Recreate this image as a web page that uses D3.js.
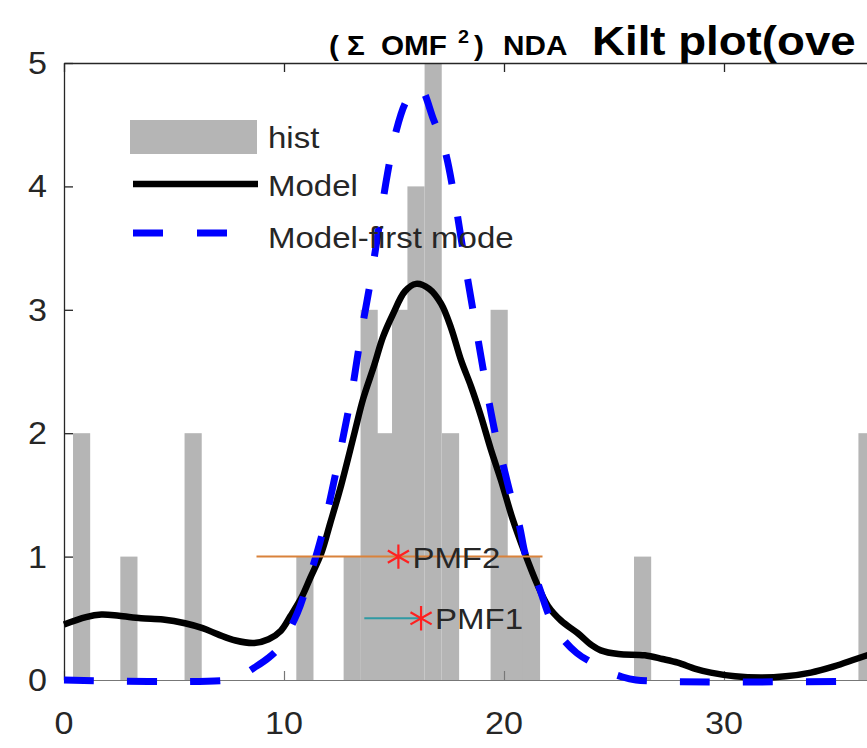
<!DOCTYPE html>
<html>
<head>
<meta charset="utf-8">
<script src="https://cdn.jsdelivr.net/npm/d3@7"></script>
<style>
  html, body { margin: 0; padding: 0; background: #fff; }
  svg { display: block; font-family: "Liberation Sans", Arial, sans-serif; }
</style>
</head>
<body>
<div id="chart"></div>
<script>
// histogram bins (centre, count)
const binCenters = [0.8, 2.95, 5.87, 10.95, 13.1, 13.87, 14.6, 15.3, 16.0, 16.78, 17.57, 19.78, 20.5, 21.25, 26.3, 36.5];
const binCounts  = [2,   1,    2,    1,     1,    3,     2,    3,    4,    5,     2,     3,     1,    1,     1,    2];
const BIN_WIDTH = 0.78;

// Model (black solid)
const modelX = [0, 1, 1.7, 2.5, 3.5, 4.5, 5.5, 6.3, 7.0, 7.8, 8.65, 9.3, 9.86, 10.3, 10.8, 11.2, 11.7, 12.1, 12.6, 13.2, 13.6, 14.1, 14.5, 14.94, 15.5, 16.0, 16.6, 17.14, 17.6, 18.05, 18.5, 18.95, 19.4, 19.86, 20.4, 20.9, 21.5, 22.0, 22.6, 23.35, 24.0, 24.4, 25.2, 26.4, 27.2, 27.9, 28.7, 29.4, 30.5, 31.7, 32.8, 33.95, 35.0, 36.0, 37.0];
const modelY = [0.45, 0.51, 0.53, 0.52, 0.50, 0.49, 0.46, 0.42, 0.37, 0.32, 0.30, 0.33, 0.40, 0.52, 0.67, 0.83, 1.03, 1.27, 1.58, 2.0, 2.28, 2.55, 2.78, 2.96, 3.15, 3.21, 3.17, 3.05, 2.85, 2.59, 2.38, 2.14, 1.87, 1.62, 1.3, 1.05, 0.78, 0.6, 0.48, 0.38, 0.28, 0.24, 0.21, 0.2, 0.17, 0.14, 0.09, 0.06, 0.03, 0.02, 0.03, 0.06, 0.11, 0.17, 0.23];

// Model-first mode (blue dashed)
const firstX = [0, 7.5, 8.0, 8.65, 9.3, 9.8, 10.6, 11.1, 11.7, 12.2, 12.7, 13.1, 13.5, 13.9, 14.3, 14.7, 15.1, 15.5, 15.9, 16.2, 16.8, 17.3, 17.8, 18.3, 18.8, 19.3, 19.6, 19.95, 20.3, 20.7, 21.0, 21.5, 22.1, 22.6, 23.3, 24.1, 24.7, 25.3, 26.0, 40];
const firstY = [0, 0, 0.03, 0.1, 0.18, 0.27, 0.54, 0.8, 1.16, 1.55, 1.98, 2.35, 2.8, 3.2, 3.65, 4.1, 4.45, 4.67, 4.78, 4.8, 4.54, 4.3, 3.85, 3.3, 2.78, 2.27, 2.0, 1.75, 1.5, 1.25, 1.0, 0.8, 0.5, 0.35, 0.22, 0.13, 0.07, 0.03, 0, 0];

// PMF markers
const pmfLabels = ["PMF2", "PMF1"];
const pmfX      = [15.2, 16.23];
const pmfY      = [1.0, 0.5];
const pmfLo     = [8.75, 13.65];
const pmfHi     = [21.75, 16.23];
const pmfColors = ["#d9823b", "#2f9aa3"];

const legendLabels = ["hist", "Model", "Model-first mode"];
const xTicks = [0, 10, 20, 30];
const yTicks = [0, 1, 2, 3, 4, 5];

// title pieces (TeX-style spacing in the picture)
const titleParts = ["(", "Σ", "OMF", "2", ")", "NDA", "Kilt plot(ove"];
const titleLeft  = [329, 347, 381, 458, 474, 503, 592];
const titleSize  = [27, 27, 27, 18, 27, 27, 41.5];

const W = 867, H = 748;
const TEXT = "#262626";
const SX = 1.1; // picture text is a little wider than Arial

const svg = d3.select("#chart").append("svg").attr("width", W).attr("height", H);

const x = d3.scaleLinear().domain([0, 40]).range([64, 944]);
const y = d3.scaleLinear().domain([0, 5]).range([680, 63]);

function label(g, tx, ty, str, size, anchor, weight, color) {
  return g.append("text")
    .attr("transform", `translate(${tx},${ty}) scale(${SX},1)`)
    .attr("text-anchor", anchor || "start")
    .attr("font-size", size)
    .attr("font-weight", weight || "normal")
    .attr("fill", color || TEXT)
    .text(str);
}

// histogram
svg.append("g").selectAll("rect")
  .data(binCenters.map((c, i) => ({ c, n: binCounts[i] })))
  .join("rect")
  .attr("x", d => x(d.c - BIN_WIDTH / 2))
  .attr("width", d => x(d.c + BIN_WIDTH / 2) - x(d.c - BIN_WIDTH / 2))
  .attr("y", d => y(d.n))
  .attr("height", d => y(0) - y(d.n))
  .attr("fill", "#b5b5b5");

// axes box
const axisG = svg.append("g");
axisG.append("g")
  .attr("transform", `translate(0,${y(0)})`)
  .call(d3.axisBottom(x).tickValues(xTicks).tickSize(-9).tickSizeOuter(0).tickFormat(""))
  .call(g => g.selectAll("path,line").attr("stroke", "#777").attr("stroke-width", 1.2));
axisG.append("g")
  .attr("transform", `translate(0,${y(5)})`)
  .call(d3.axisTop(x).tickValues(xTicks).tickSize(-9).tickSizeOuter(0).tickFormat(""))
  .call(g => g.selectAll("path,line").attr("stroke", TEXT).attr("stroke-width", 1.3));
axisG.append("g")
  .attr("transform", `translate(${x(0)},0)`)
  .call(d3.axisLeft(y).tickValues(yTicks).tickSize(-9).tickSizeOuter(0).tickFormat(""))
  .call(g => g.selectAll("path,line").attr("stroke", TEXT).attr("stroke-width", 1.3));

// tick labels
yTicks.forEach(t => label(svg, 47, y(t) + 11, String(t), 31, "end"));
xTicks.forEach(t => label(svg, x(t), 734, String(t), 31, "middle"));

// curves
const line = (xs, ys) => d3.line()
  .x((d, i) => x(xs[i]))
  .y((d, i) => y(ys[i]))
  .curve(d3.curveCatmullRom.alpha(0.5))(xs);

svg.append("path")
  .attr("d", line(modelX, modelY))
  .attr("fill", "none")
  .attr("stroke", "#000")
  .attr("stroke-width", 6.5);

svg.append("path")
  .attr("d", line(firstX, firstY))
  .attr("fill", "none")
  .attr("stroke", "#0000ff")
  .attr("stroke-width", 7)
  .attr("stroke-dasharray", "30 33");

// PMF markers
pmfLabels.forEach((name, i) => {
  svg.append("line")
    .attr("x1", x(pmfLo[i])).attr("x2", x(pmfHi[i]))
    .attr("y1", y(pmfY[i])).attr("y2", y(pmfY[i]))
    .attr("stroke", pmfColors[i])
    .attr("stroke-width", 2);
  svg.append("path")
    .attr("d", d3.symbol(d3.symbolAsterisk, 420)())
    .attr("transform", `translate(${x(pmfX[i])},${y(pmfY[i])})`)
    .attr("fill", "none")
    .attr("stroke", "#ff2020")
    .attr("stroke-width", 2.2);
  label(svg, x(pmfX[i]) + 14, y(pmfY[i]) + 11, name, 30, "start");
});

// legend
const leg = svg.append("g");
leg.append("rect").attr("x", 130).attr("y", 120).attr("width", 127).attr("height", 34).attr("fill", "#b5b5b5");
leg.append("line").attr("x1", 133).attr("x2", 258).attr("y1", 184).attr("y2", 184)
  .attr("stroke", "#000").attr("stroke-width", 6.5);
leg.append("line").attr("x1", 133).attr("x2", 258).attr("y1", 233).attr("y2", 233)
  .attr("stroke", "#0000ff").attr("stroke-width", 7).attr("stroke-dasharray", "30 34");
[148, 196, 248].forEach((ty, i) => label(leg, 268, ty, legendLabels[i], 30, "start"));

// title (cut off at the right edge in the picture)
const tg = svg.append("g");
titleParts.forEach((s, i) => {
  const base = s === "2" ? 43 : 55;
  label(tg, titleLeft[i], base, s, titleSize[i], "start", "bold", "#000");
});
</script>
</body>
</html>
